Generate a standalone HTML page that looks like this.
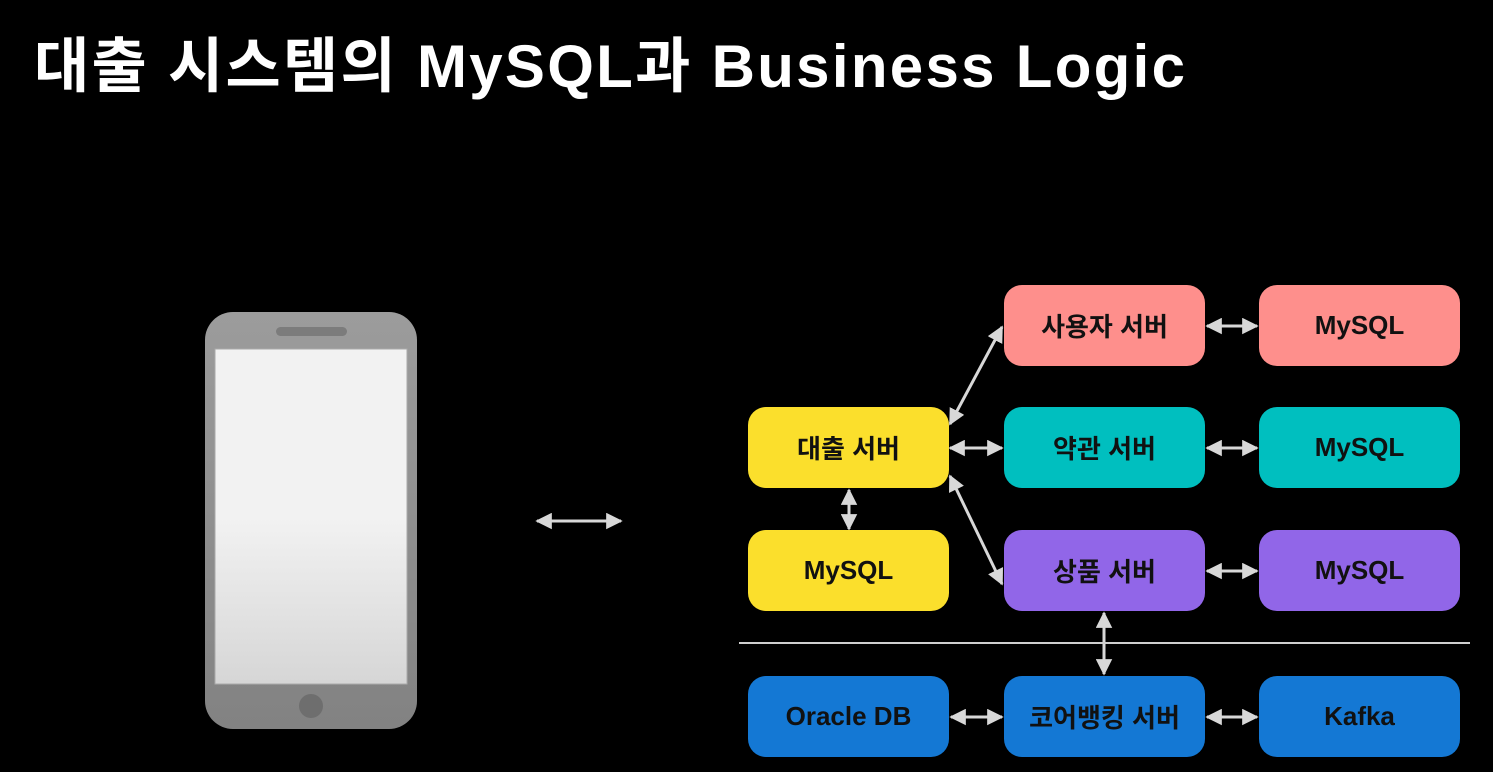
<!DOCTYPE html>
<html><head><meta charset="utf-8"><style>
html,body{margin:0;padding:0;background:#000;width:1493px;height:772px;overflow:hidden}
.t{position:absolute;left:34px;top:18px;color:#fff;font:bold 60px "Liberation Sans","Noto Sans CJK KR",sans-serif;letter-spacing:2.3px;white-space:nowrap}
.b{position:absolute;width:201px;height:81px;border-radius:18px;display:flex;align-items:center;justify-content:center;font:bold 26px "Liberation Sans","Noto Sans CJK KR",sans-serif;color:#111}
.y{background:#fbdf2c}.r{background:#fe8f8c}.c{background:#00bfbf}.p{background:#9166e8}.u{background:#1478d4}
svg{position:absolute;left:0;top:0}
</style></head><body>
<div class="t">대출 시스템의 MySQL과 Business Logic</div>
<svg width="1493" height="772">
<defs>
<linearGradient id="g" x1="0" y1="0" x2="0" y2="1"><stop offset="0" stop-color="#9c9c9c"/><stop offset="1" stop-color="#828282"/></linearGradient>
<linearGradient id="s" x1="0" y1="0" x2="0" y2="1"><stop offset="0.5" stop-color="#f2f2f2"/><stop offset="1" stop-color="#d6d6d6"/></linearGradient>
<marker id="a" viewBox="0 0 10 10" refX="9" refY="5" markerWidth="5.5" markerHeight="5.5" orient="auto-start-reverse"><path d="M0,0L10,5L0,10z" fill="#d8d8d8"/></marker>
</defs>
<rect x="205" y="312" width="212" height="417" rx="28" fill="url(#g)"/>
<rect x="215" y="349" width="192" height="335" fill="url(#s)" stroke="#aaa" stroke-width="1"/>
<rect x="276" y="327" width="71" height="9" rx="4.5" fill="#7c7c7c"/>
<circle cx="311" cy="706" r="12" fill="#6e6e6e"/>
<g stroke="#d8d8d8" stroke-width="3" fill="none" marker-start="url(#a)" marker-end="url(#a)">
<line x1="537" y1="521" x2="621" y2="521"/>
<line x1="950" y1="424" x2="1002" y2="327"/>
<line x1="950" y1="448" x2="1002" y2="448"/>
<line x1="950" y1="476" x2="1002" y2="584"/>
<line x1="849" y1="490" x2="849" y2="529"/>
<line x1="1207" y1="326" x2="1257" y2="326"/>
<line x1="1207" y1="448" x2="1257" y2="448"/>
<line x1="1207" y1="571" x2="1257" y2="571"/>
<line x1="1104" y1="613" x2="1104" y2="674"/>
<line x1="951" y1="717" x2="1002" y2="717"/>
<line x1="1207" y1="717" x2="1257" y2="717"/>
</g>
<line x1="739" y1="643" x2="1470" y2="643" stroke="#cfcfcf" stroke-width="2"/>
</svg>
<div class="b r" style="left:1004px;top:285px">사용자 서버</div>
<div class="b r" style="left:1259px;top:285px">MySQL</div>
<div class="b y" style="left:748px;top:407px">대출 서버</div>
<div class="b c" style="left:1004px;top:407px">약관 서버</div>
<div class="b c" style="left:1259px;top:407px">MySQL</div>
<div class="b y" style="left:748px;top:530px">MySQL</div>
<div class="b p" style="left:1004px;top:530px">상품 서버</div>
<div class="b p" style="left:1259px;top:530px">MySQL</div>
<div class="b u" style="left:748px;top:676px">Oracle DB</div>
<div class="b u" style="left:1004px;top:676px">코어뱅킹 서버</div>
<div class="b u" style="left:1259px;top:676px">Kafka</div>
</body></html>
